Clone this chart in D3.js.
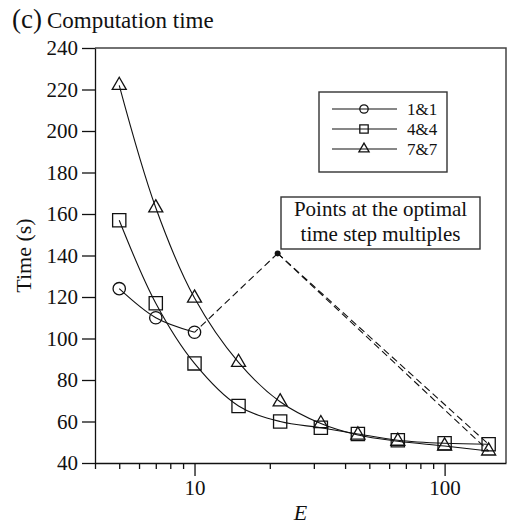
<!DOCTYPE html>
<html>
<head>
<meta charset="utf-8">
<script src="https://cdn.jsdelivr.net/npm/d3@7"></script>
<style>
    body { margin: 0; background: #fff; }
    svg text { font-family: "Liberation Serif", "Times New Roman", serif; fill: #111; }
    .axis path, .axis line { stroke: #111; stroke-width: 1.3; }
    .series { fill: none; stroke: #111; stroke-width: 1.1; }
    .marker { fill: none; stroke: #111; stroke-width: 1.3; }
    .guide { fill: none; stroke: #111; stroke-width: 1.1; stroke-dasharray: 7,4; }
</style>
</head>
<body>
<svg width="510" height="524"></svg>
<script>
// data
const eValues = [5, 7, 10, 15, 22, 32, 45, 65, 100, 150];
const series11 = [124, 110, 103];
const series44 = [157, 117, 88, 67.5, 60, 57, 54, 51, 49.5, 49];
const series77 = [222, 163, 119.5, 88.5, 69.5, 59, 53.5, 50.5, 48.2, 45.8];
const seriesNames = ['1&1', '4&4', '7&7'];
const yTicks = [40, 60, 80, 100, 120, 140, 160, 180, 200, 220, 240];
const xMajorTicks = [10, 100];
const xMinorTicks = [4, 5, 6, 7, 8, 9, 20, 30, 40, 50, 60, 70, 80, 90];
const optimalPoint = [21.5, 141];
const annotationLines = ['Points at the optimal', 'time step multiples'];

const MARGIN = { top: 48, right: 4, bottom: 61, left: 95 };
const width = 510, height = 524;

const svg = d3.select('svg');

const xScale = d3.scaleLog()
    .domain([4, 176])
    .range([MARGIN.left, width - MARGIN.right]);
const yScale = d3.scaleLinear()
    .domain([40, 240])
    .range([height - MARGIN.bottom, MARGIN.top]);

// frame (top + right)
svg.append('path')
    .attr('d', `M${xScale.range()[0]},${yScale.range()[1]}H${xScale.range()[1]}V${yScale.range()[0]}`)
    .attr('fill', 'none')
    .attr('stroke', '#444')
    .attr('stroke-width', 1.5);

// axes
const yAxis = svg.append('g')
    .attr('class', 'axis y-axis')
    .attr('transform', `translate(${MARGIN.left},0)`)
    .call(d3.axisLeft(yScale).tickValues(yTicks).tickSize(13).tickSizeOuter(0).tickPadding(4));
yAxis.selectAll('text').style('font-size', '21px');

svg.append('g')
    .attr('class', 'axis x-minor')
    .attr('transform', `translate(0,${yScale(40)})`)
    .call(d3.axisBottom(xScale).tickValues(xMinorTicks).tickSize(6).tickSizeOuter(0).tickFormat(''));

const xAxis = svg.append('g')
    .attr('class', 'axis x-axis')
    .attr('transform', `translate(0,${yScale(40)})`)
    .call(d3.axisBottom(xScale).tickValues(xMajorTicks).tickSize(13).tickSizeOuter(0).tickPadding(4).tickFormat(d3.format('d')));
xAxis.selectAll('text').style('font-size', '21px');
svg.selectAll('.axis text').attr('fill', '#111');
svg.select('.x-minor .domain').remove();

// axis titles
svg.append('text')
    .attr('x', (xScale.range()[0] + xScale.range()[1]) / 2)
    .attr('y', 520)
    .attr('text-anchor', 'middle')
    .style('font-size', '22px')
    .style('font-style', 'italic')
    .text('E');

svg.append('text')
    .attr('transform', `translate(31,${(yScale.range()[0] + yScale.range()[1]) / 2}) rotate(-90)`)
    .attr('text-anchor', 'middle')
    .style('font-size', '22px')
    .text('Time (s)');

// panel title
const title = svg.append('text')
    .attr('x', 12)
    .attr('y', 28);
title.append('tspan').style('font-size', '27px').text('(c)');
title.append('tspan').style('font-size', '23px').attr('dx', 5).text('Computation time');

// lines
const lineGen = d3.line()
    .x(d => xScale(d[0]))
    .y(d => yScale(d[1]))
    .curve(d3.curveCatmullRom.alpha(0.5));

const allSeries = [series11, series44, series77].map(vals => vals.map((v, i) => [eValues[i], v]));

const markerSymbols = [
    d3.symbol().type(d3.symbolCircle).size(120),
    d3.symbol().type(d3.symbolSquare).size(175),
    d3.symbol().type(d3.symbolTriangle).size(85)
];
const legendSymbols = [
    d3.symbol().type(d3.symbolCircle).size(55),
    d3.symbol().type(d3.symbolSquare).size(70),
    d3.symbol().type(d3.symbolTriangle).size(45)
];

allSeries.forEach((pts, si) => {
    svg.append('path')
        .datum(pts)
        .attr('class', 'series')
        .attr('d', lineGen);
    svg.append('g')
        .selectAll('path')
        .data(pts)
        .join('path')
        .attr('class', 'marker')
        .attr('transform', d => `translate(${xScale(d[0])},${yScale(d[1])})`)
        .attr('d', markerSymbols[si]);
});

// annotation: dashed guides to the optimal points
const lastIdx = eValues.length - 1;
const guideTargets = [
    [eValues[2], series11[2]],
    [eValues[lastIdx], series44[lastIdx]],
    [eValues[lastIdx], series77[lastIdx]]
];
guideTargets.forEach(t => {
    svg.append('path')
        .datum([optimalPoint, t])
        .attr('class', 'guide')
        .attr('d', d3.line().x(d => xScale(d[0])).y(d => yScale(d[1])));
});
svg.append('circle')
    .attr('cx', xScale(optimalPoint[0]))
    .attr('cy', yScale(optimalPoint[1]))
    .attr('r', 3)
    .attr('fill', '#111');

const note = svg.append('g').attr('transform', 'translate(281,197)');
note.append('rect')
    .attr('width', 199)
    .attr('height', 52)
    .attr('fill', '#fff')
    .attr('stroke', '#333')
    .attr('stroke-width', 1.4);
note.selectAll('text')
    .data(annotationLines)
    .join('text')
    .attr('x', 99.5)
    .attr('y', (d, i) => 19 + i * 25)
    .attr('text-anchor', 'middle')
    .style('font-size', '21px')
    .text(d => d);

// legend
const legend = svg.append('g').attr('class', 'legend').attr('transform', 'translate(319,92)');
legend.append('rect')
    .attr('width', 128)
    .attr('height', 80)
    .attr('fill', '#fff')
    .attr('stroke', '#333')
    .attr('stroke-width', 1.4);
seriesNames.forEach((name, i) => {
    const row = legend.append('g').attr('transform', `translate(0,${17 + i * 20})`);
    row.append('line')
        .attr('x1', 13).attr('x2', 78)
        .attr('stroke', '#111').attr('stroke-width', 1.1);
    row.append('path')
        .attr('class', 'marker')
        .attr('transform', 'translate(45,0)')
        .attr('d', legendSymbols[i]);
    row.append('text')
        .attr('x', 88)
        .attr('y', 6)
        .style('font-size', '17px')
        .text(name);
});
</script>
</body>
</html>
